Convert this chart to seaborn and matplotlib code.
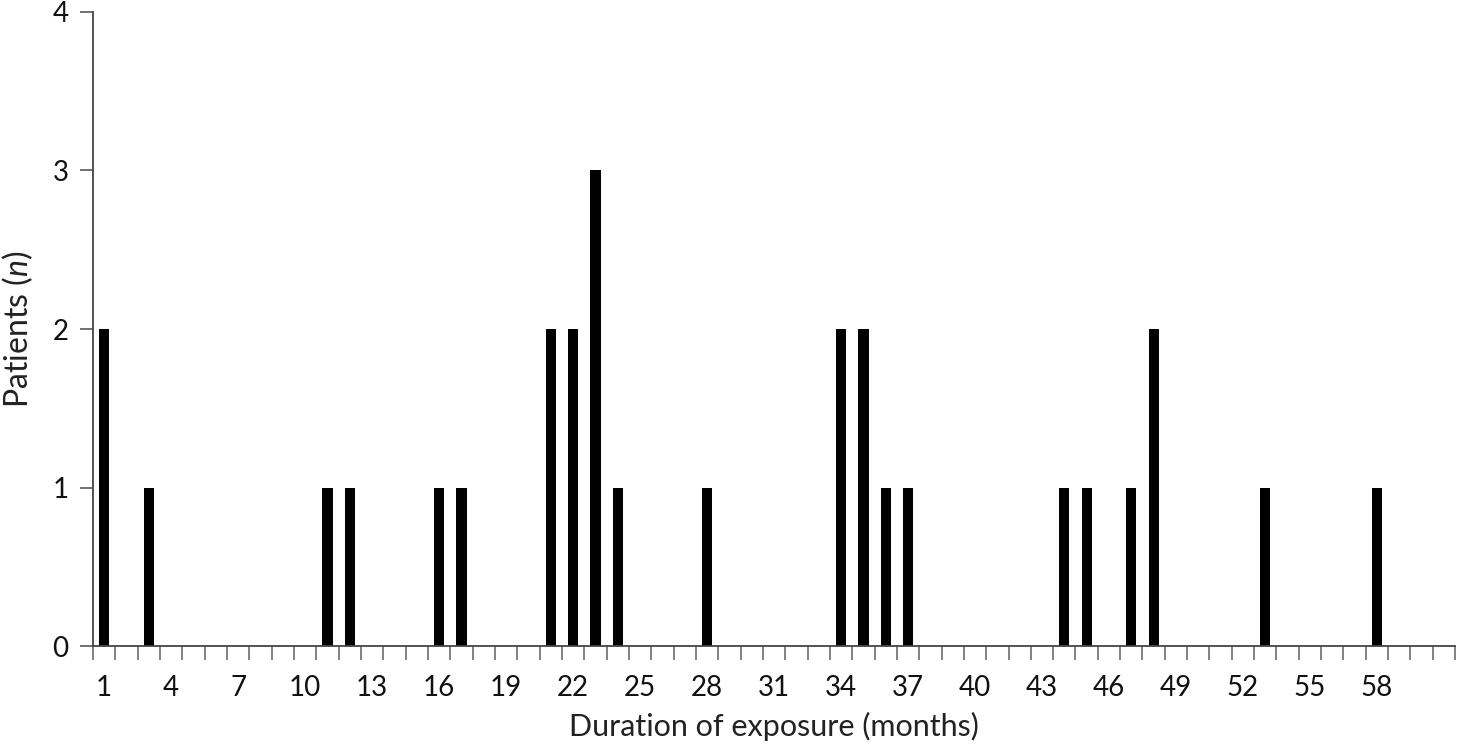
import numpy as np
import pandas as pd
import matplotlib
matplotlib.use("Agg")
import matplotlib.pyplot as plt
import seaborn as sns

# months shown on the axis and the patients counted at each exposure duration
months = list(range(1, 62))
exposure_months = [1, 3, 11, 12, 16, 17, 21, 22, 23, 24, 28, 34, 35, 36, 37, 44, 45, 47, 48, 53, 58]
patients = [2, 1, 1, 1, 1, 1, 2, 2, 3, 1, 1, 2, 2, 1, 1, 1, 1, 1, 2, 1, 1]
tick_labels = [str(m) for m in range(1, 59, 3)]

counts = dict(zip(exposure_months, patients))
df = pd.DataFrame({"month": months, "patients": [counts.get(m, 0) for m in months]})

sns.set_style("ticks")
plt.rcParams["font.family"] = ["Lato", "DejaVu Sans"]
plt.rcParams["mathtext.fontset"] = "custom"
plt.rcParams["mathtext.rm"] = "Lato"
plt.rcParams["mathtext.it"] = "Lato:italic"

fig = plt.figure(figsize=(14.58, 7.54), dpi=100)
ax = fig.add_axes([0.0638, 0.1432, 0.9342, 0.8409])

sns.barplot(data=df, x="month", y="patients", order=months, color="black",
            width=0.46, saturation=1, edgecolor="black", linewidth=0, ax=ax)

ax.set_xlim(-0.5, len(months) - 0.5)
ax.set_ylim(0, 4)
ax.set_yticks([0, 1, 2, 3, 4])

# labels every third month, small ticks on the bin edges
ax.set_xticks(np.arange(0, 58, 3))
ax.set_xticklabels(tick_labels)
ax.set_xticks(np.arange(-0.5, len(months)), minor=True)
ax.tick_params(axis="x", which="major", length=0, pad=21, labelsize=20, colors="#111111")
ax.tick_params(axis="x", which="minor", length=10, width=1.3, color="#777777")
ax.tick_params(axis="y", length=9.5, width=1.3, pad=8, labelsize=20,
               color="#666666", labelcolor="#111111")

for side in ["top", "right"]:
    ax.spines[side].set_visible(False)
for side in ["left", "bottom"]:
    ax.spines[side].set_linewidth(1.3)
    ax.spines[side].set_color("#444444")

ax.set_xlabel("Duration of exposure (months)", fontsize=22, labelpad=8, color="#222222")
ax.set_ylabel(r"Patients ($\mathit{n}$)", fontsize=23, labelpad=13, color="#222222")

fig.savefig("out.png", dpi=100, facecolor="white")
